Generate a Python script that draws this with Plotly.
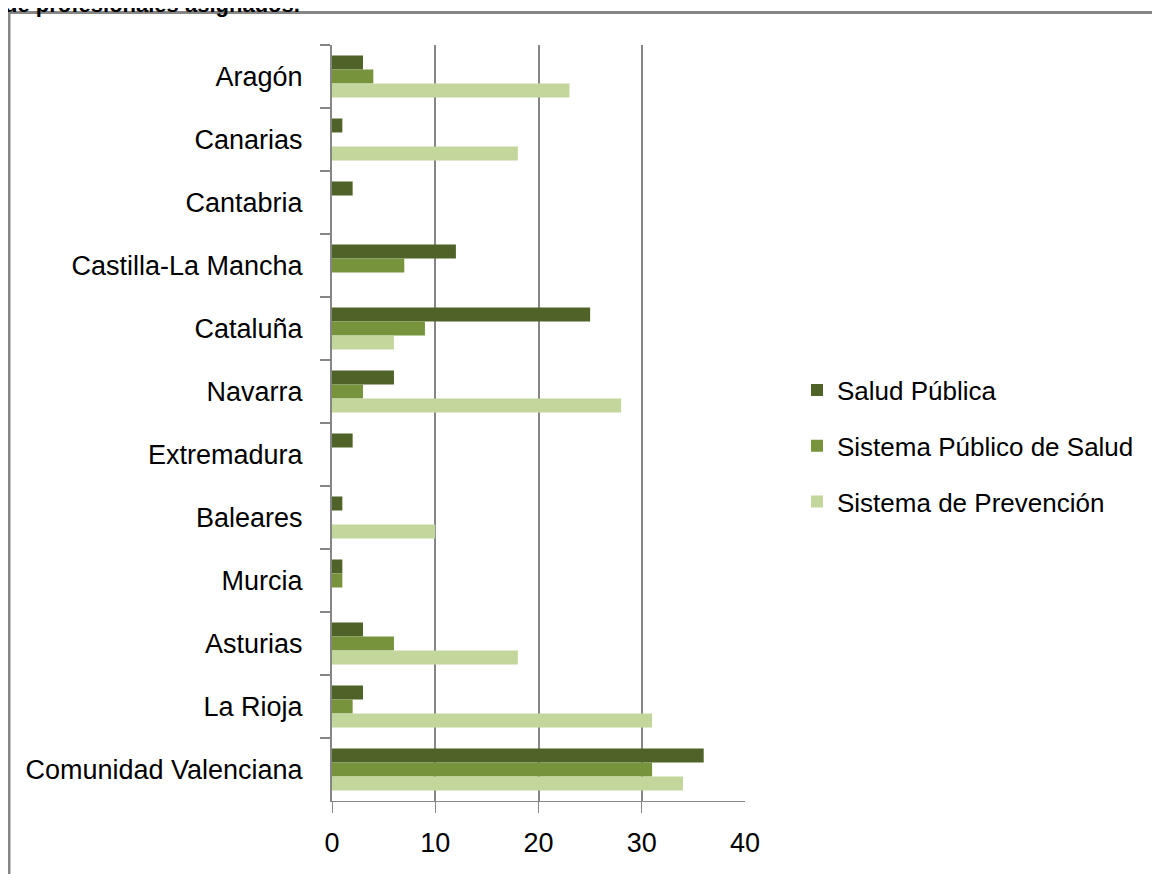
import plotly.graph_objects as go

categories = ["Aragón", "Canarias", "Cantabria", "Castilla-La Mancha", "Cataluña", "Navarra",
              "Extremadura", "Baleares", "Murcia", "Asturias", "La Rioja", "Comunidad Valenciana"]
salud_publica = [3, 1, 2, 12, 25, 6, 2, 1, 1, 3, 3, 36]
sistema_publico = [4, 0, 0, 7, 9, 3, 0, 0, 1, 6, 2, 31]
sistema_prevencion = [23, 18, 0, 0, 6, 28, 0, 10, 0, 18, 31, 34]
x_ticks = [0, 10, 20, 30, 40]
grid_ticks = [10, 20, 30]
tick_marks = [0, 10, 20, 30]

series = [
    ("Salud Pública", salud_publica, "#4F6228"),
    ("Sistema Público de Salud", sistema_publico, "#77933C"),
    ("Sistema de Prevención", sistema_prevencion, "#C3D69B"),
]

FONT = "Liberation Sans, Arial, sans-serif"
GRAY = "#868686"

# page offset of the figure (default body margin)
OFF = 8
W, H = 1160 - OFF, 874 - OFF
# plot area in page pixels
L, R, T, B = 332 - OFF, 745 - OFF, 45 - OFF, 801 - OFF

def px_x(p):
    return (p - OFF - L) / (R - L)

def px_y(p):
    return (B - (p - OFF)) / (B - T)

fig = go.Figure()
for i, (name, vals, col) in enumerate(series):
    fig.add_trace(go.Bar(
        y=categories, x=vals, name=name, orientation="h",
        marker=dict(color=col, line=dict(width=0)),
        legendgroup=f"g{i}",
    ))

# helper trace for overlay axis (gridlines and tick marks)
fig.add_trace(go.Scatter(x=[None], y=[None], xaxis="x2", showlegend=False,
                         hoverinfo="skip", mode="markers"))

fig.update_layout(
    width=W, height=H,
    margin=dict(l=L, r=W - R, t=T, b=H - B, autoexpand=False),
    paper_bgcolor="white", plot_bgcolor="white",
    barmode="group", bargap=0.333, bargroupgap=0,
    font=dict(family=FONT, color="black", size=26),
    showlegend=True,
    legend=dict(
        x=px_x(797), xanchor="left", y=px_y(446), yanchor="middle",
        font=dict(family=FONT, size=26, color="black"),
        traceorder="grouped", tracegroupgap=19,
        bgcolor="rgba(0,0,0,0)",
    ),
    xaxis=dict(
        range=[0, 40], tickvals=x_ticks, showgrid=False, zeroline=False,
        showline=True, linecolor=GRAY, linewidth=1, ticks="",
        tickfont=dict(family=FONT, size=27, color="black"),
        ticklabelstandoff=18,
    ),
    xaxis2=dict(
        overlaying="x", side="bottom", range=[0, 40], tickvals=tick_marks,
        showgrid=True, gridcolor=GRAY, gridwidth=2, zeroline=False,
        ticks="outside", ticklen=11, tickcolor=GRAY, tickwidth=1,
        showticklabels=False, showline=False,
    ),
    yaxis=dict(
        autorange="reversed", type="category", tickson="boundaries",
        ticks="outside", ticklen=10, tickcolor=GRAY, tickwidth=2,
        showline=True, linecolor=GRAY, linewidth=2, showgrid=False,
        tickfont=dict(family=FONT, size=27, color="black"),
        ticklabelstandoff=22,
    ),
    shapes=[dict(
        type="rect", xref="paper", yref="paper",
        x0=px_x(9), x1=px_x(1175), y0=px_y(890), y1=px_y(12.5),
        line=dict(color=GRAY, width=3), fillcolor="rgba(0,0,0,0)", layer="below",
    )],
    annotations=[dict(
        text="<b>de profesionales asignados.</b>", xref="paper", yref="paper",
        x=px_x(2), y=px_y(4), xanchor="left", yanchor="middle",
        showarrow=False, font=dict(family=FONT, size=22, color="black"),
    )],
)

fig.write_html("out.html")
